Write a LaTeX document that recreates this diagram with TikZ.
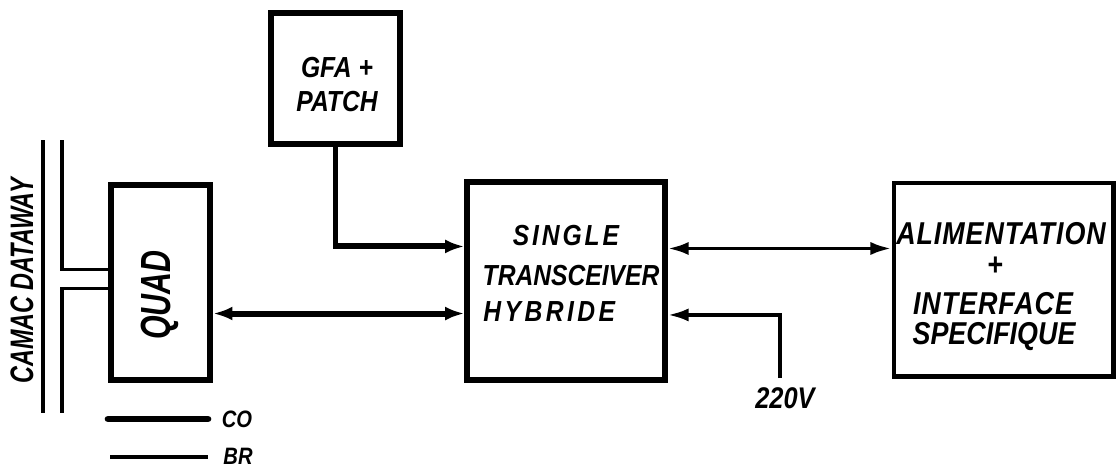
\documentclass[tikz,border=0pt]{standalone}
\usepackage{fontspec}
\usetikzlibrary{arrows.meta,calc}
\newfontfamily\lettA{Liberation Sans}[FakeStretch=0.85]
\newfontfamily\lettB{Liberation Sans}[FakeStretch=0.72]
\begin{document}
\begin{tikzpicture}[x=0.02cm,y=-0.02cm,
  box/.style={draw, rectangle, inner sep=0pt, line join=miter},
  heavybox/.style={box, line width=3.6pt},
  midbox/.style={box, line width=3.0pt},
  lightbox/.style={box, line width=2.3pt},
  heavy/.style={line width=3.4pt},
  mid/.style={line width=2.2pt},
  bus/.style={line width=1.8pt},
  tipH/.tip={Latex[length=11pt,width=8pt]},
  tipM/.tip={Latex[length=12pt,width=7.5pt]},
  txt/.style={inner sep=0pt, font=\lettA\bfseries\itshape\fontsize{16.5pt}{18pt}\selectfont},
  txtL/.style={inner sep=0pt, font=\lettA\bfseries\itshape\fontsize{18pt}{20pt}\selectfont},
  txtN/.style={inner sep=0pt, font=\lettB\bfseries\itshape\fontsize{18.5pt}{20pt}\selectfont},
  txtQ/.style={inner sep=0pt, font=\lettB\bfseries\itshape\fontsize{24pt}{26pt}\selectfont},
  txtS/.style={inner sep=0pt, font=\lettA\bfseries\itshape\fontsize{13.5pt}{16pt}\selectfont},
]
\useasboundingbox (0,0) rectangle (1118,470);

% boxes
\node[heavybox, minimum width=2.58cm, minimum height=2.62cm] (gfa) at (335.5,78.5) {};
\node[heavybox, minimum width=1.98cm, minimum height=3.90cm] (quad) at (160.5,282.5) {};
\node[midbox, minimum width=3.96cm, minimum height=3.96cm] (single) at (566,281) {};
\node[lightbox, minimum width=4.40cm, minimum height=3.88cm] (alim) at (1003.5,279.5) {};

% texts
\node[txt] (tgfa1) at (337,68) {GFA +};
\node[txt] (tgfa2) at (337,102) {PATCH};
\node[txtQ, rotate=90] (tquad) at (160,295) {QUAD};
\node[txt] (ts1) at (566,236) {\addfontfeature{LetterSpace=10}SINGLE};
\node[txt] (ts2) at (571,276) {TRANSCEIVER};
\node[txt, anchor=west] (ts3) at (483,312) {\addfontfeature{LetterSpace=12}HYBRIDE};
\node[txtL] (ta1) at (1001,234) {\addfontfeature{LetterSpace=3}ALIMENTATION};
\node[txtL] (ta2) at (995,266) {+};
\node[txtL] (ta3) at (993,304) {\addfontfeature{LetterSpace=3}INTERFACE};
\node[txtL] (ta4) at (994,337) {SPECIFIQUE};
\node[txtN, rotate=90] (tcamac) at (22,281) {CAMAC DATAWAY};
\node[txt, font=\lettA\bfseries\itshape\fontsize{17pt}{18pt}\selectfont] (tv) at (785,398) {220V};
\node[txtS] (tco) at (237,419) {CO};
\node[txtS] (tbr) at (238,456) {BR};

% connection points
\coordinate (sA) at ($(single.north west)!0.33!(single.south west)$);
\coordinate (sB) at ($(single.north west)!0.66!(single.south west)$);
\coordinate (sC) at ($(single.north east)!0.34!(single.south east)$);
\coordinate (sD) at ($(single.north east)!0.667!(single.south east)$);
\coordinate (qA) at ($(quad.north west)!0.437!(quad.south west)$);
\coordinate (qB) at ($(quad.north west)!0.528!(quad.south west)$);
\coordinate (vbot) at (780,378);
\coordinate (l1top) at (43,140);
\coordinate (l1bot) at (43,413);
\coordinate (l2top) at (62,140);
\coordinate (l2bot) at (62,413);
\coordinate (coA) at (108,419);
\coordinate (coB) at (208,419);
\coordinate (brA) at (110,457);
\coordinate (brB) at (208,457);

% connectors
\draw[heavy, -tipH] (gfa.south) |- (sA);
\draw[heavy, tipH-tipH] (quad.east |- sB) -- (sB);
\draw[mid, tipM-tipM] (sC) -- (alim.west |- sC);
\draw[mid, -tipM] (vbot) |- (sD);

% dataway
\draw[bus] (l1top) -- (l1bot);
\draw[bus] (l2top) |- (qA);
\draw[bus] (qB) -| (l2bot);

% legend
\draw[line width=3.8pt, line cap=round] (coA) -- (coB);
\draw[bus] (brA) -- (brB);
\end{tikzpicture}
\end{document}
